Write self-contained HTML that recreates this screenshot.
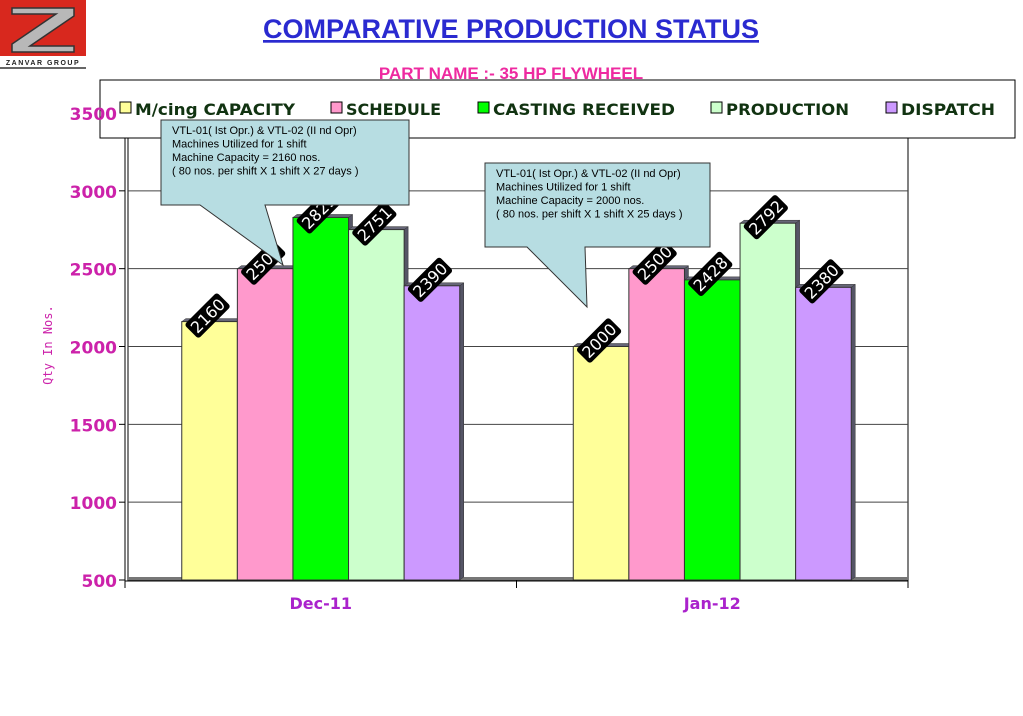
<!DOCTYPE html>
<html><head><meta charset="utf-8"><style>
body{margin:0;width:1023px;height:716px;background:#fff;overflow:hidden;font-family:"Liberation Sans",sans-serif}
svg{position:absolute;left:0;top:0}
</style></head><body>
<svg id="c" width="1023" height="716">
<g>
<rect x="0" y="0" width="86" height="56" fill="#d8281e"/>
<polygon points="12,8 74,8 74,16 30,46 74,46 74,52 12,52 12,44 56,14 12,14" fill="#b8b8b8" stroke="#333" stroke-width="1.5"/>
<text x="43" y="65" font-size="7" font-weight="bold" text-anchor="middle" letter-spacing="1.5" fill="#222">ZANVAR GROUP</text>
<line x1="0" y1="68" x2="86" y2="68" stroke="#333" stroke-width="1.5"/>
</g>
<text x="511" y="38" font-size="27" font-weight="bold" fill="#2a2ad0" text-anchor="middle" text-decoration="underline">COMPARATIVE PRODUCTION STATUS</text>
<text x="511" y="79" font-size="17" font-weight="bold" fill="#ee2aa0" text-anchor="middle">PART NAME :- 35 HP FLYWHEEL</text>
<g id="plot"></g>
</svg>
<script>
const categories=["Dec-11","Jan-12"];
const seriesNames=["M/cing CAPACITY","SCHEDULE","CASTING RECEIVED","PRODUCTION","DISPATCH"];
const capacity=[2160,2000];
const schedule=[2500,2500];
const casting=[2829,2428];
const production=[2751,2792];
const dispatch=[2390,2380];
const yTicks=[500,1000,1500,2000,2500,3000,3500];
const colors=["#ffff99","#ff99cc","#00ff00","#ccffcc","#cc99ff"];
const series=[capacity,schedule,casting,production,dispatch];
const NS="http://www.w3.org/2000/svg";
const g=document.getElementById('plot');
const X0=125,X1=908,Y0=580,Y1=113,vmin=500,vmax=3500;
const y=v=>Y0-(v-vmin)/(vmax-vmin)*(Y0-Y1);
const catW=(X1-X0)/categories.length;
const barW=catW*0.71/5;
function mk(t,a,p){const e=document.createElementNS(NS,t);for(const k in a)e.setAttribute(k,a[k]);(p||g).appendChild(e);return e;}
let fr=mk('rect',{x:128,y:113,width:X1-128,height:Y0-113,fill:'#fff',stroke:'#000','stroke-width':1});

yTicks.forEach(v=>{
 let l=mk('line',{x1:128,x2:X1,y1:y(v),y2:y(v),stroke:'#444','stroke-width':1});
 
 mk('line',{x1:X0-6,x2:X0,y1:y(v),y2:y(v),stroke:'#000'});
});
mk('line',{x1:X0,x2:X0,y1:Y1,y2:Y0+4,stroke:'#000'});
mk('rect',{x:128,y:Y0-3,width:X1-128,height:3,fill:'#777'});
mk('line',{x1:X0,x2:X1,y1:Y0+1,y2:Y0+1,stroke:'#000'});
for(let i=0;i<=categories.length;i++)mk('line',{x1:X0+i*catW,x2:X0+i*catW,y1:Y0,y2:Y0+8,stroke:'#000'});
const labelLayer=[];
categories.forEach((c,ci)=>{
 let t=mk('text',{x:X0+catW*(ci+0.5),y:Y0+29,'font-size':16,'font-weight':'bold',fill:'#aa22cc','text-anchor':'middle','font-family':'DejaVu Sans'});
 t.textContent=c;
 series.forEach((s,si)=>{
  const bx=X0+catW*ci+(catW-5*barW)/2+si*barW, by=y(s[ci]);
  mk('polygon',{points:`${bx+barW},${by} ${bx+barW+4},${by-3} ${bx+barW+4},${Y0-3} ${bx+barW},${Y0}`,fill:'#556',stroke:'#333','stroke-width':0.5});
  mk('polygon',{points:`${bx},${by} ${bx+4},${by-3} ${bx+barW+4},${by-3} ${bx+barW},${by}`,fill:'#667',stroke:'#333','stroke-width':0.5});
  let r=mk('rect',{x:bx,y:by,width:barW,height:Y0-by,fill:colors[si],stroke:'#333','stroke-width':1});
  
  labelLayer.push([bx+barW/2-2,by-6,s[ci]]);
 });
});
labelLayer.forEach(([lx,ly,v])=>{
  const lg=mk('g',{transform:`translate(${lx},${ly}) rotate(-45)`});
  mk('rect',{x:-23,y:-10,width:46,height:20,rx:3,fill:'#000'},lg);
  let lt=mk('text',{x:0,y:6,'font-size':16,fill:'#fff','text-anchor':'middle','font-family':'DejaVu Sans'},lg);
  lt.textContent=v;
});
function callout(x,yy,w,h,tail,lines,name){
 const p=`${x},${yy} ${x+w},${yy} ${x+w},${yy+h} ${tail[2]},${yy+h} ${tail[0]},${tail[1]} ${tail[3]},${yy+h} ${x},${yy+h}`;
 let c=mk('polygon',{points:p,fill:'#b7dde2',stroke:'#333','stroke-width':1});
 
 lines.forEach((l,i)=>{let t=mk('text',{x:x+11,y:yy+14+i*13.5,'font-size':11,fill:'#000'});t.textContent=l;t.setAttribute('xml:space','preserve');});
}
// legend
let lb=mk('rect',{x:100,y:80,width:915,height:58,fill:'#fff',stroke:'#000'});

const lx=[120,331,478,711,886];
seriesNames.forEach((n,i)=>{
 mk('rect',{x:lx[i],y:102,width:11,height:11,fill:colors[i],stroke:'#000'});
 let t=mk('text',{x:lx[i]+15,y:115,'font-size':16,'font-weight':'bold',fill:'#113311','font-family':'DejaVu Sans','textLength':{0:160,1:95,2:182,3:123,4:94}[i],'lengthAdjust':'spacingAndGlyphs'});
 t.textContent=n;
});
callout(161,120,248,85,[283,265,265,200],["VTL-01( Ist Opr.) & VTL-02 (II nd Opr)","  Machines Utilized for 1 shift","  Machine Capacity = 2160 nos."," ( 80 nos. per shift X 1 shift X 27 days  )"],'callout-dec');
callout(485,163,225,84,[587,307,585,527],["VTL-01( Ist Opr.) & VTL-02 (II nd Opr)","  Machines Utilized for 1 shift","  Machine Capacity = 2000 nos."," ( 80 nos. per shift X 1 shift X 25 days  )"],'callout-jan');
yTicks.forEach(v=>{
 let t=mk('text',{x:X0-8,y:y(v)+7,'font-size':17,'font-weight':'bold',fill:'#cc22aa','text-anchor':'end','font-family':'DejaVu Sans'});
 t.textContent=v;
});
let yt=mk('text',{x:0,y:0,transform:'translate(52,345) rotate(-90)','font-size':12,fill:'#cc22aa','text-anchor':'middle','font-family':'DejaVu Sans Mono'});
yt.textContent='Qty In Nos.';
</script>
</body></html>
